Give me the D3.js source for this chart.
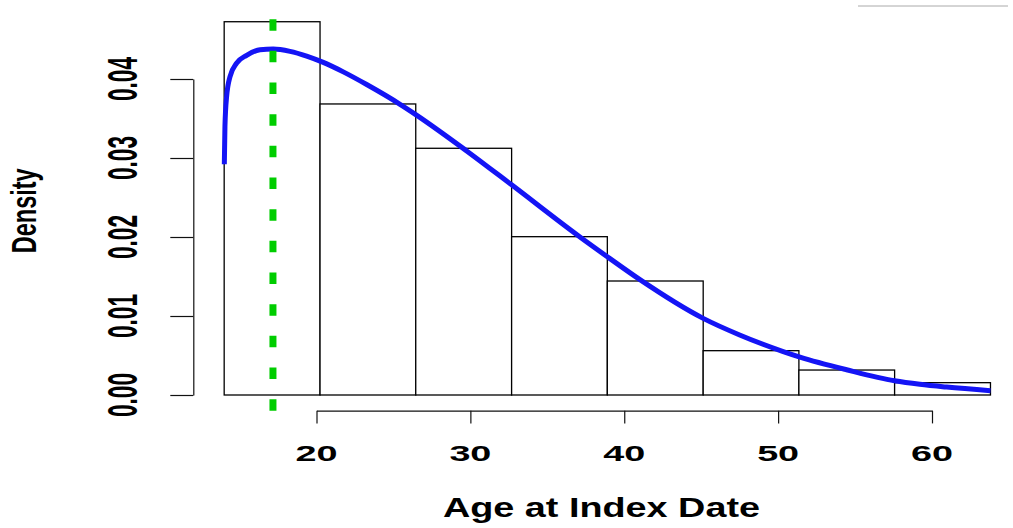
<!DOCTYPE html>
<html>
<head>
<meta charset="utf-8">
<script src="https://cdn.jsdelivr.net/npm/d3@7"></script>
<style>
  body { margin: 0; background: #fff; }
  svg { display: block; }
  text { font-family: "Liberation Sans", Arial, sans-serif; font-weight: bold; fill: #000; }
</style>
</head>
<body>
<div id="chart"></div>
<script>
// histogram of age at index date
const breaks = [14.0, 20.23, 26.45, 32.68, 38.9, 45.13, 51.35, 57.57, 63.8];
const densities = [0.04725, 0.03684, 0.03123, 0.02004, 0.01443, 0.00561, 0.00316, 0.00156];

// fitted density curve
const curveAge = [14.01, 14.05, 14.16, 14.38, 14.81, 15.46, 16.33, 17.19, 18.28, 19.36,
  20.44, 21.74, 23.26, 25.43, 26.45, 29.76, 32.68, 37.12, 38.9, 41.02,
  45.13, 47.5, 50.33, 51.42, 54.45, 57.57, 59.21, 60.95, 63.8];
const curveDensity = [0.0292, 0.0340, 0.0378, 0.0403, 0.0420, 0.0430, 0.0437, 0.0438, 0.0435, 0.0429,
  0.0421, 0.0409, 0.0393, 0.0368, 0.0355, 0.0309, 0.0266, 0.0200, 0.0175, 0.0146,
  0.0097, 0.0076, 0.0055, 0.0048, 0.0032, 0.0018, 0.00135, 0.0010, 0.00055];

const modeAge = 17.17;

const xTicks = [20, 30, 40, 50, 60];
const yTicks = [0, 0.01, 0.02, 0.03, 0.04];
const yTickLabels = ['0.00', '0.01', '0.02', '0.03', '0.04'];

const width = 1013;
const height = 528;
const plotLeft = 193.3;
const plotBottom = 410.7;
const plotTop = 7;

const svg = d3.select('#chart')
  .append('svg')
  .attr('width', width)
  .attr('height', height);

const x = d3.scaleLinear().domain([20, 60]).range([316.5, 932]);
const y = d3.scaleLinear().domain([0, 0.04]).range([395, 79]);

// bars
const bins = densities.map((d, i) => ({x0: breaks[i], x1: breaks[i + 1], d: d}));
svg.append('g')
  .attr('fill', '#fff')
  .attr('stroke', '#000')
  .attr('stroke-width', 1.3)
  .selectAll('rect')
  .data(bins)
  .join('rect')
    .attr('x', b => x(b.x0))
    .attr('y', b => y(b.d))
    .attr('width', b => x(b.x1) - x(b.x0))
    .attr('height', b => y(0) - y(b.d));

// density curve
const pts = curveAge.map((a, i) => [a, curveDensity[i]]);
svg.append('path')
  .datum(pts)
  .attr('fill', 'none')
  .attr('stroke', '#1414f5')
  .attr('stroke-width', 5)
  .attr('d', d3.line()
    .x(p => x(p[0]))
    .y(p => y(p[1]))
    .curve(d3.curveMonotoneX));

// mode line
svg.append('line')
  .attr('x1', x(modeAge))
  .attr('x2', x(modeAge))
  .attr('y1', plotBottom)
  .attr('y2', plotTop)
  .attr('stroke', '#00cd00')
  .attr('stroke-width', 7)
  .attr('stroke-dasharray', '11.5,20.17');

// axes
const yAxis = svg.append('g')
  .attr('transform', `translate(${plotLeft},0)`)
  .call(d3.axisLeft(y).tickValues(yTicks).tickSize(23).tickSizeOuter(0).tickFormat(''));
const xAxis = svg.append('g')
  .attr('transform', `translate(0,${plotBottom})`)
  .call(d3.axisBottom(x).tickValues(xTicks).tickSize(12.7).tickSizeOuter(0).tickFormat(''));
[yAxis, xAxis].forEach(g => {
  g.selectAll('path, line').attr('stroke', '#111').attr('stroke-width', 1.2);
});

// y tick labels (rotated, squeezed)
svg.append('g')
  .selectAll('text')
  .data(yTicks)
  .join('text')
    .attr('transform', d => `translate(136.7,${y(d)}) rotate(-90)`)
    .attr('text-anchor', 'middle')
    .attr('font-size', 42)
    .attr('textLength', 44)
    .attr('lengthAdjust', 'spacingAndGlyphs')
    .text((d, i) => yTickLabels[i]);

// x tick labels (stretched)
svg.append('g')
  .selectAll('text')
  .data(xTicks)
  .join('text')
    .attr('x', d => x(d))
    .attr('y', 461)
    .attr('text-anchor', 'middle')
    .attr('font-size', 22.5)
    .attr('textLength', 42)
    .attr('lengthAdjust', 'spacingAndGlyphs')
    .text(d => d);

// axis titles
svg.append('text')
  .attr('x', 601.5)
  .attr('y', 516.7)
  .attr('text-anchor', 'middle')
  .attr('font-size', 27)
  .attr('textLength', 317)
  .attr('lengthAdjust', 'spacingAndGlyphs')
  .text('Age at Index Date');

svg.append('text')
  .attr('transform', 'translate(36,210.8) rotate(-90)')
  .attr('text-anchor', 'middle')
  .attr('font-size', 35)
  .attr('textLength', 85)
  .attr('lengthAdjust', 'spacingAndGlyphs')
  .text('Density');

// stray legend edge at the top right
svg.append('line')
  .attr('x1', 858).attr('x2', 1008)
  .attr('y1', 6).attr('y2', 6)
  .attr('stroke', '#aaa')
  .attr('stroke-width', 1);
</script>
</body>
</html>
